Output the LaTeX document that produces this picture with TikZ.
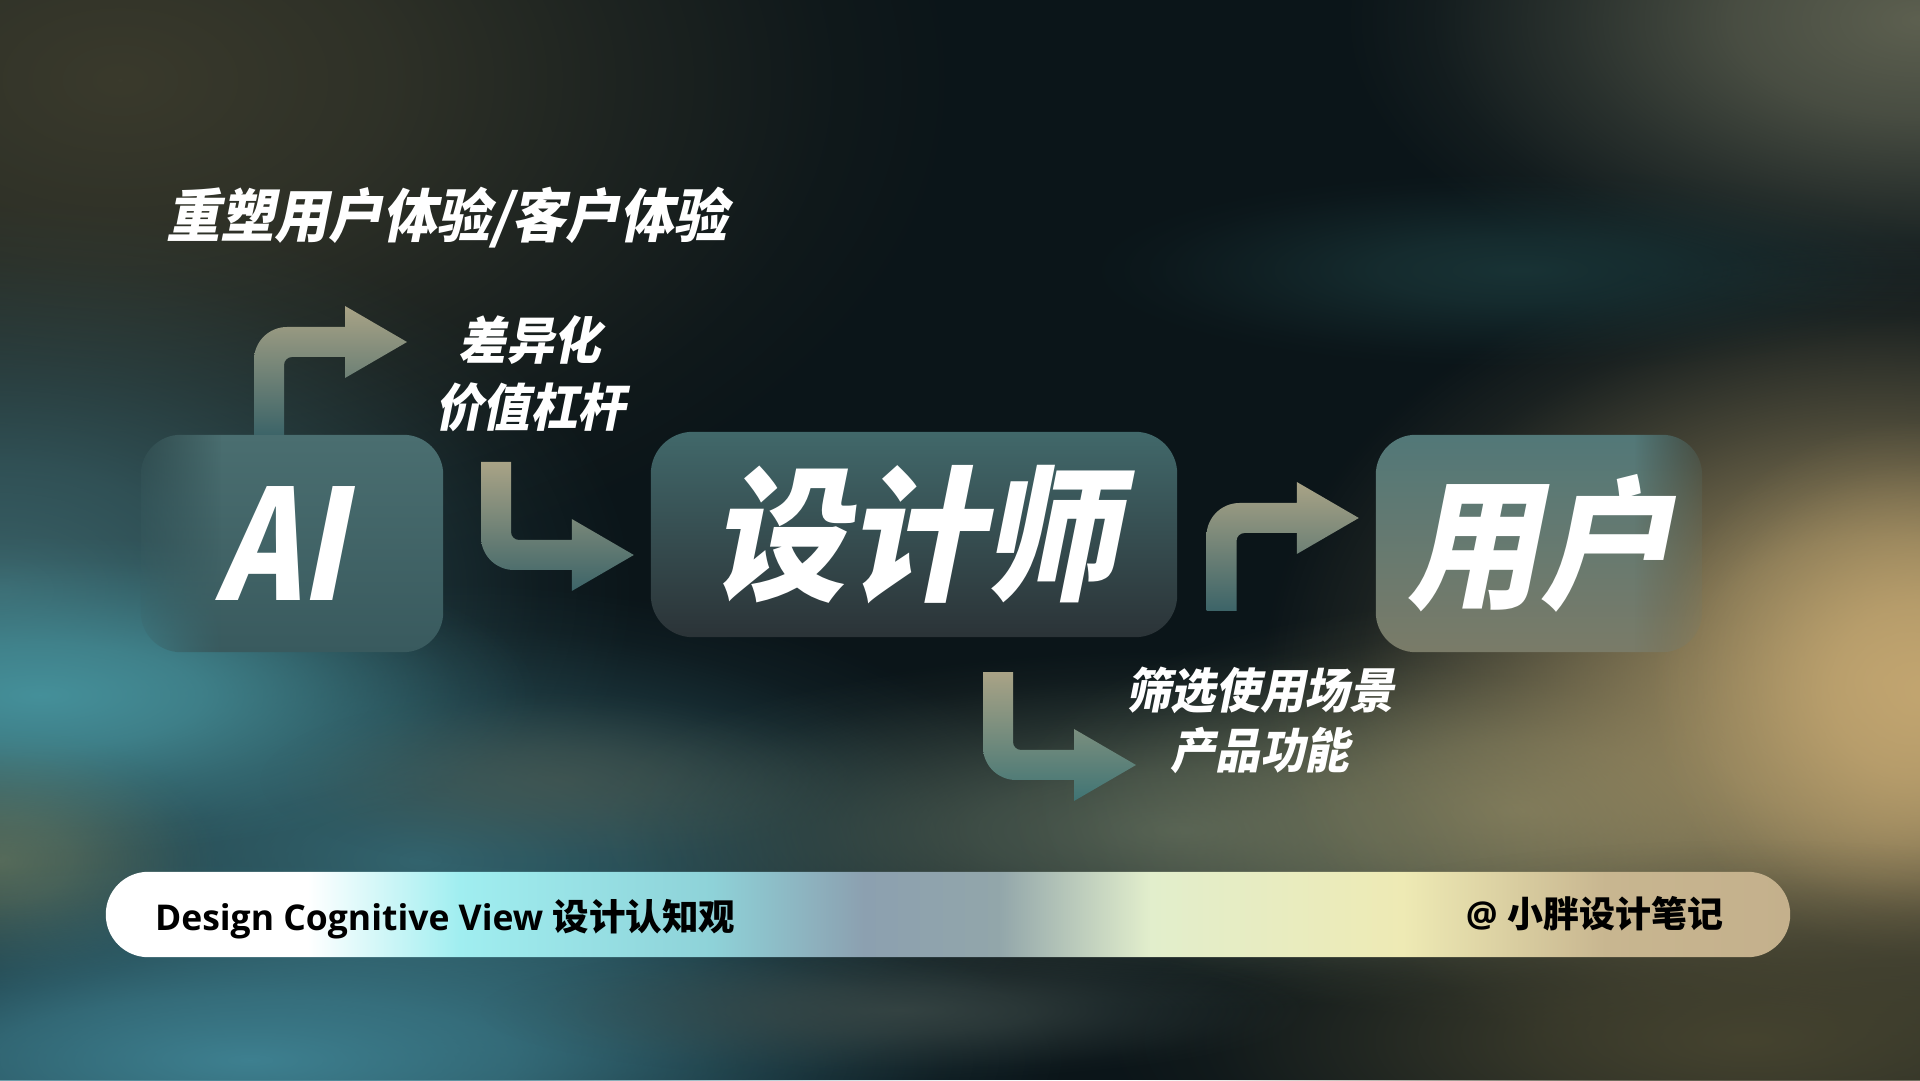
\documentclass[tikz,border=0pt]{standalone}
\usepackage{fontspec}
\usetikzlibrary{fadings,calc}
\newfontfamily\cjk{Noto Sans CJK SC}
\newfontfamily\cjksl{Noto Sans CJK SC}[FakeSlant=0.2, FakeStretch=0.93]
\newfontfamily\cjkai{Noto Sans CJK SC}[FakeSlant=0.2, FakeStretch=0.82]
\newfontfamily\osans{Open Sans}

\definecolor{bgbase}{HTML}{0B1519}
\definecolor{oliveTL}{HTML}{3A3A2C}
\definecolor{tealL}{HTML}{3A6268}
\definecolor{tealB}{HTML}{45909A}
\definecolor{tealM}{HTML}{33646E}
\definecolor{oliveLL}{HTML}{7A8A6A}
\definecolor{khakiL}{HTML}{4E5A50}
\definecolor{tealBot}{HTML}{3E8090}
\definecolor{greenC}{HTML}{5A6A5C}
\definecolor{tanR}{HTML}{A89466}
\definecolor{tanR2}{HTML}{C2A570}
\definecolor{oliveBR}{HTML}{45432F}
\definecolor{greyTR}{HTML}{5D6050}
\definecolor{darkteal}{HTML}{1C3A3C}
\definecolor{greenR}{HTML}{7A7A5C}
\definecolor{greyB}{HTML}{3C4A48}

\definecolor{aiTop}{HTML}{4A6E70}
\definecolor{aiBot}{HTML}{395A5E}
\definecolor{desTop}{HTML}{41686A}
\definecolor{desBot}{HTML}{2B3337}
\definecolor{usrTop}{HTML}{527878}
\definecolor{usrBot}{HTML}{7A7B68}
\definecolor{arwTop}{HTML}{A9A386}
\definecolor{arwBot}{HTML}{3C6468}
\definecolor{arwBotG}{HTML}{3F7474}

\definecolor{barA}{HTML}{FFFFFF}
\definecolor{barB}{HTML}{A0EEF0}
\definecolor{barC}{HTML}{8ED2D8}
\definecolor{barD}{HTML}{8CA0B0}
\definecolor{barE}{HTML}{92A6AA}
\definecolor{barF}{HTML}{E2EECC}
\definecolor{barG}{HTML}{EEEAB4}
\definecolor{barH}{HTML}{C8B690}
\definecolor{barI}{HTML}{C4B08C}

% 25bp = left end of bar, 75bp = right end
\pgfdeclarehorizontalshading{barshade}{100bp}{color(0bp)=(barA); color(25bp)=(barA); color(31bp)=(barA); color(35.5bp)=(barB); color(43bp)=(barC); color(47.5bp)=(barD); color(51.5bp)=(barE); color(56bp)=(barF); color(63.5bp)=(barG); color(69.5bp)=(barH); color(75bp)=(barI); color(100bp)=(barI)}

\pgfdeclareradialshading{glowshade}{\pgfpointorigin}{color(0bp)=(white); color(8bp)=(white!75!black); color(15bp)=(white!38!black); color(21bp)=(white!10!black); color(25bp)=(black); color(50bp)=(black)}
\begin{tikzfadingfrompicture}[name=glow]
  \shade[shading=glowshade] (-25bp,-25bp) rectangle (25bp,25bp);
\end{tikzfadingfrompicture}
\begin{tikzfadingfrompicture}[name=fadeL]
  \shade[left color=black, right color=white] (-25bp,-30bp) rectangle (-9bp,30bp);
  \fill[white] (-9.2bp,-30bp) rectangle (30bp,30bp);
\end{tikzfadingfrompicture}
\begin{tikzfadingfrompicture}[name=fadeR]
  \fill[white] (-30bp,-30bp) rectangle (12.2bp,30bp);
  \shade[left color=white, right color=black] (12bp,-30bp) rectangle (25bp,30bp);
\end{tikzfadingfrompicture}

\newcommand{\softglow}[5]{\fill[#1, path fading=glow] (#2,#3) ellipse [x radius=#4, y radius=#5];}

% bent arrow: up, then right
\newcommand{\arrowUR}[3]{%
  \shade[#3] let \p1=(#1), \p2=(#2) in
    (\x1-15pt,\y1) -- (\x1-15pt,\y2-18pt) arc[start angle=180,end angle=90,radius=33pt]
    -- (\x2-62pt,\y2+15pt) -- (\x2-62pt,\y2+36pt) -- (\x2,\y2) -- (\x2-62pt,\y2-36pt)
    -- (\x2-62pt,\y2-15pt) -- (\x1+23pt,\y2-15pt) arc[start angle=90,end angle=180,radius=8pt]
    -- (\x1+15pt,\y1) -- cycle;}
% bent arrow: down, then right
\newcommand{\arrowDR}[3]{%
  \shade[#3] let \p1=(#1), \p2=(#2) in
    (\x1-15pt,\y1) -- (\x1-15pt,\y2+18pt) arc[start angle=180,end angle=270,radius=33pt]
    -- (\x2-62pt,\y2-15pt) -- (\x2-62pt,\y2-36pt) -- (\x2,\y2) -- (\x2-62pt,\y2+36pt)
    -- (\x2-62pt,\y2+15pt) -- (\x1+23pt,\y2+15pt) arc[start angle=270,end angle=180,radius=8pt]
    -- (\x1+15pt,\y1) -- cycle;}

\pgfdeclarelayer{back}
\pgfsetlayers{back,main}

\tikzset{
  txt/.style={text=white, inner sep=0pt},
  boxnode/.style={inner sep=0pt, text=white},
  bigfont/.style={font=\cjksl\bfseries\fontsize{#1}{#1}\selectfont},
  arrowfill/.style={top color=arwTop, bottom color=arwBot},
  arrowfillG/.style={top color=arwTop, bottom color=arwBotG},
  bartext/.style={inner sep=0pt, text=black},
}

\begin{document}
\begin{tikzpicture}[x=1pt,y=1pt]
\useasboundingbox (0,0) rectangle (1920,1080);

% ---------- nodes ----------
\node[txt, font=\cjksl\bfseries\fontsize{58}{64}\selectfont] (title) at (447,862.5) {重塑用户体验/客户体验};
\node[txt, align=center, font=\cjksl\bfseries\fontsize{51}{67}\selectfont] (lab1) at (530,706.5) {差异化\\价值杠杆};
\node[txt, align=center, font=\cjksl\bfseries\fontsize{48}{60}\selectfont] (lab2) at (1260,360) {筛选使用场景\\产品功能};

\node[boxnode, minimum width=302pt, minimum height=217pt, font=\cjkai\bfseries\fontsize{153}{153}\selectfont] (ai) at (292,536.5) {AI\hspace*{24pt}};
\node[boxnode, minimum width=526pt, minimum height=205pt, bigfont=146] (des) at (914,545.5) {设计师};
\node[boxnode, minimum width=326pt, minimum height=217pt, bigfont=143] (usr) at (1539,536.5) {用户};

\node[inner sep=0pt, minimum width=1684pt, minimum height=85pt] (bar) at (948,165.5) {};
\node[bartext, anchor=base west] (barL) at ($(bar.west)+(49,-15.5)$)
  {{\osans\bfseries\fontsize{35.5}{40}\selectfont Design Cognitive View }{\cjk\bfseries\fontsize{36.5}{40}\selectfont 设计认知观}};
\node[bartext, anchor=base east] (barR) at ($(bar.east)+(-67,-12.5)$)
  {{\osans\bfseries\fontsize{35.5}{40}\selectfont @ }{\cjk\bfseries\fontsize{36}{40}\selectfont 小胖设计笔记}};

% ---------- arrow end points ----------
\coordinate (a1s) at ($(ai.north)+(-23,0)$);
\coordinate (a1t) at (407,738);
\coordinate (a2s) at (496,618);
\coordinate (a2t) at ($(des.west)+(-17,-20.5)$);
\coordinate (a3s) at (1221.5,469);
\coordinate (a3t) at ($(usr.west)+(-17,25.5)$);
\coordinate (a4s) at ($(des.south)+(84,-35)$);
\coordinate (a4t) at (1136,315);

\begin{pgfonlayer}{back}
  % ---------- background ----------
  \fill[bgbase] (0,0) rectangle (1920,1080);
  \softglow{oliveTL}{120}{1000}{850}{520}
  \softglow{tealL}{0}{490}{640}{390}
  \softglow{tealM}{420}{220}{650}{280}
  \softglow{tealB}{40}{385}{500}{160}
  \softglow{oliveLL, fill opacity=0.6}{0}{220}{220}{130}
  \softglow{khakiL, fill opacity=0.6}{560}{300}{300}{90}
  \softglow{tealBot}{250}{20}{820}{200}
  \softglow{greenC, fill opacity=0.85}{1180}{250}{620}{180}
  \softglow{greenR, fill opacity=0.85}{1520}{270}{520}{210}
  \softglow{tanR}{1880}{400}{620}{440}
  \softglow{tanR2}{1920}{390}{270}{270}
  \softglow{oliveBR}{1750}{40}{650}{200}
  \softglow{greyTR}{1920}{1060}{580}{300}
  \softglow{darkteal, fill opacity=0.8}{1520}{810}{440}{100}
  \softglow{greyB, fill opacity=0.8}{900}{70}{420}{70}

  % ---------- boxes ----------
  \shade[top color=aiTop, bottom color=aiBot, path fading=fadeL, rounded corners=40pt]
    (ai.south west) rectangle (ai.north east);
  \shade[top color=desTop, bottom color=desBot, rounded corners=42pt]
    (des.south west) rectangle (des.north east);
  \shade[top color=usrTop, bottom color=usrBot, path fading=fadeR, rounded corners=40pt]
    (usr.south west) rectangle (usr.north east);

  % ---------- bottom bar ----------
  \shade[shading=barshade, rounded corners=42.5pt] (bar.south west) rectangle (bar.north east);
\end{pgfonlayer}

% ---------- arrows ----------
\arrowUR{a1s}{a1t}{arrowfill}
\arrowDR{a2s}{a2t}{arrowfill}
\arrowUR{a3s}{a3t}{arrowfill}
\arrowDR{a4s}{a4t}{arrowfillG}

\end{tikzpicture}
\end{document}
